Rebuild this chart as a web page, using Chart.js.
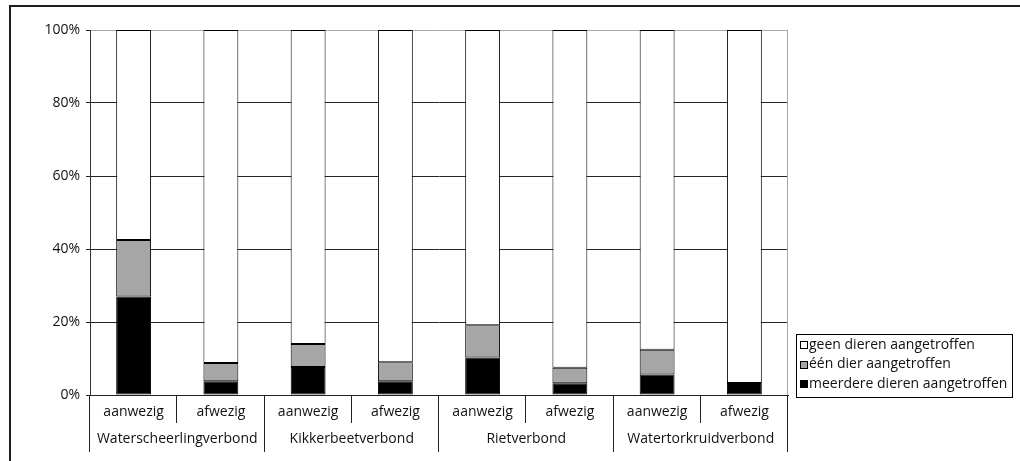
<!DOCTYPE html>
<html>
<head>
<meta charset="utf-8">
<script src="https://cdn.jsdelivr.net/npm/chart.js@4/dist/chart.umd.min.js"></script>
<style>
  html, body { margin: 0; padding: 0; background: #fff; }
  #wrap { width: 1020px; height: 461px; position: relative; }
</style>
</head>
<body>
<div id="wrap"><canvas id="c" width="1020" height="461"></canvas></div>
<script>
// Aanwezigheid van dieren per vegetatieverbond (percentage van de monsters)
const categories = ['aanwezig', 'afwezig', 'aanwezig', 'afwezig', 'aanwezig', 'afwezig', 'aanwezig', 'afwezig'];
const groups = ['Waterscheerlingverbond', 'Kikkerbeetverbond', 'Rietverbond', 'Watertorkruidverbond'];

const meerdereDieren = [27.0, 3.8, 7.7, 3.8, 10.3, 3.2, 5.6, 3.3];
const eenDier        = [15.5, 5.0, 6.3, 5.2, 8.8, 4.3, 6.8, 0.0];
const geenDieren     = [57.5, 91.2, 86.0, 91.0, 80.9, 92.5, 87.6, 96.7];

const seriesLabels = ['meerdere dieren aangetroffen', 'één dier aangetroffen', 'geen dieren aangetroffen'];
const yTickValues = [0, 20, 40, 60, 80, 100];

const FONT = '"Open Sans", "DejaVu Sans", sans-serif';
const FONT_SIZE = 14;
const INK = '#111';

// Outer frame, plot border, category separators and the boxed legend
const decorations = {
  id: 'decorations',
  beforeDraw(chart) {
    const ctx = chart.ctx;
    ctx.save();
    ctx.fillStyle = '#fff';
    ctx.fillRect(0, 0, chart.width, chart.height);
    ctx.strokeStyle = '#1e1e1e';
    ctx.lineWidth = 2;
    ctx.strokeRect(10, 6, chart.width + 20, chart.height + 20);
    ctx.restore();
  },
  afterDraw(chart) {
    const ctx = chart.ctx;
    const area = chart.chartArea;
    const xs = chart.scales.x;
    const half = (xs.getPixelForValue(1) - xs.getPixelForValue(0)) / 2;
    ctx.save();
    // right-hand plot border
    ctx.strokeStyle = '#a8a8a8';
    ctx.lineWidth = 1;
    const rx = Math.round(area.right) - 0.5;
    ctx.beginPath();
    ctx.moveTo(rx, area.top);
    ctx.lineTo(rx, area.bottom);
    ctx.stroke();
    // separators below the axis: short between conditions, long between groups
    ctx.strokeStyle = '#222';
    for (let i = 0; i <= categories.length; i++) {
      const b = i < categories.length ? xs.getPixelForValue(i) - half : xs.getPixelForValue(i - 1) + half;
      const x = Math.round(b) - 0.5;
      const y2 = (i % 2 === 0) ? area.bottom + 57 : area.bottom + 28;
      ctx.beginPath();
      ctx.moveTo(x, area.bottom);
      ctx.lineTo(x, y2);
      ctx.stroke();
    }
    // legend
    const lx = 796.5, ly = 334.5, lw = 216, lh = 63;
    ctx.fillStyle = '#fff';
    ctx.fillRect(lx, ly, lw, lh);
    ctx.strokeStyle = '#000';
    ctx.strokeRect(lx, ly, lw, lh);
    ctx.font = FONT_SIZE + 'px ' + FONT;
    ctx.textBaseline = 'middle';
    const ds = chart.data.datasets.slice().reverse();
    ds.forEach((d, k) => {
      const cy = 345 + k * 19.5;
      ctx.fillStyle = d.backgroundColor;
      ctx.fillRect(800.5, Math.round(cy) - 3.5, 7, 7);
      ctx.strokeStyle = '#000';
      ctx.strokeRect(800.5, Math.round(cy) - 3.5, 7, 7);
      ctx.fillStyle = INK;
      ctx.fillText(d.label, 809, cy);
    });
    ctx.restore();
  }
};

const barStyle = { borderColor: '#000', borderWidth: 1, borderSkipped: false, barPercentage: 0.4, categoryPercentage: 1.0, xAxisID: 'x', yAxisID: 'y' };

new Chart(document.getElementById('c'), {
  type: 'bar',
  data: {
    labels: categories,
    datasets: [
      Object.assign({ label: seriesLabels[0], data: meerdereDieren, backgroundColor: '#000000' }, barStyle),
      Object.assign({ label: seriesLabels[1], data: eenDier, backgroundColor: '#a6a6a6' }, barStyle),
      Object.assign({ label: seriesLabels[2], data: geenDieren, backgroundColor: '#ffffff' }, barStyle)
    ]
  },
  options: {
    responsive: false,
    animation: false,
    devicePixelRatio: 1,
    layout: { padding: { top: 30, right: 232, bottom: 0, left: 0 } },
    plugins: { legend: { display: false }, tooltip: { enabled: false } },
    scales: {
      x: {
        type: 'category',
        stacked: true,
        position: 'bottom',
        weight: 0,
        grid: { display: false, drawTicks: false },
        border: { display: true, color: '#222', width: 1 },
        ticks: { color: INK, font: { family: FONT, size: FONT_SIZE }, padding: 9, maxRotation: 0, autoSkip: false },
        afterFit(s) { s.height = 28; }
      },
      x2: {
        type: 'category',
        labels: groups,
        offset: true,
        position: 'bottom',
        weight: 1,
        grid: { display: false, drawTicks: false },
        border: { display: false },
        ticks: { color: INK, font: { family: FONT, size: FONT_SIZE }, padding: 8, maxRotation: 0, autoSkip: false },
        afterFit(s) { s.height = 38; }
      },
      y: {
        stacked: true,
        min: 0,
        max: 100,
        afterBuildTicks(s) { s.ticks = yTickValues.map(v => ({ value: v })); },
        grid: {
          color: (c) => (c.tick && c.tick.value === 100) ? '#a8a8a8' : '#262626',
          tickColor: '#222',
          tickLength: 4,
          lineWidth: 1
        },
        border: { display: true, color: '#333', width: 1 },
        ticks: { color: INK, font: { family: FONT, size: FONT_SIZE }, padding: 6, callback: (v) => v + '%' },
        afterFit(s) { s.width = 90; }
      }
    }
  },
  plugins: [decorations]
});
</script>
</body>
</html>
